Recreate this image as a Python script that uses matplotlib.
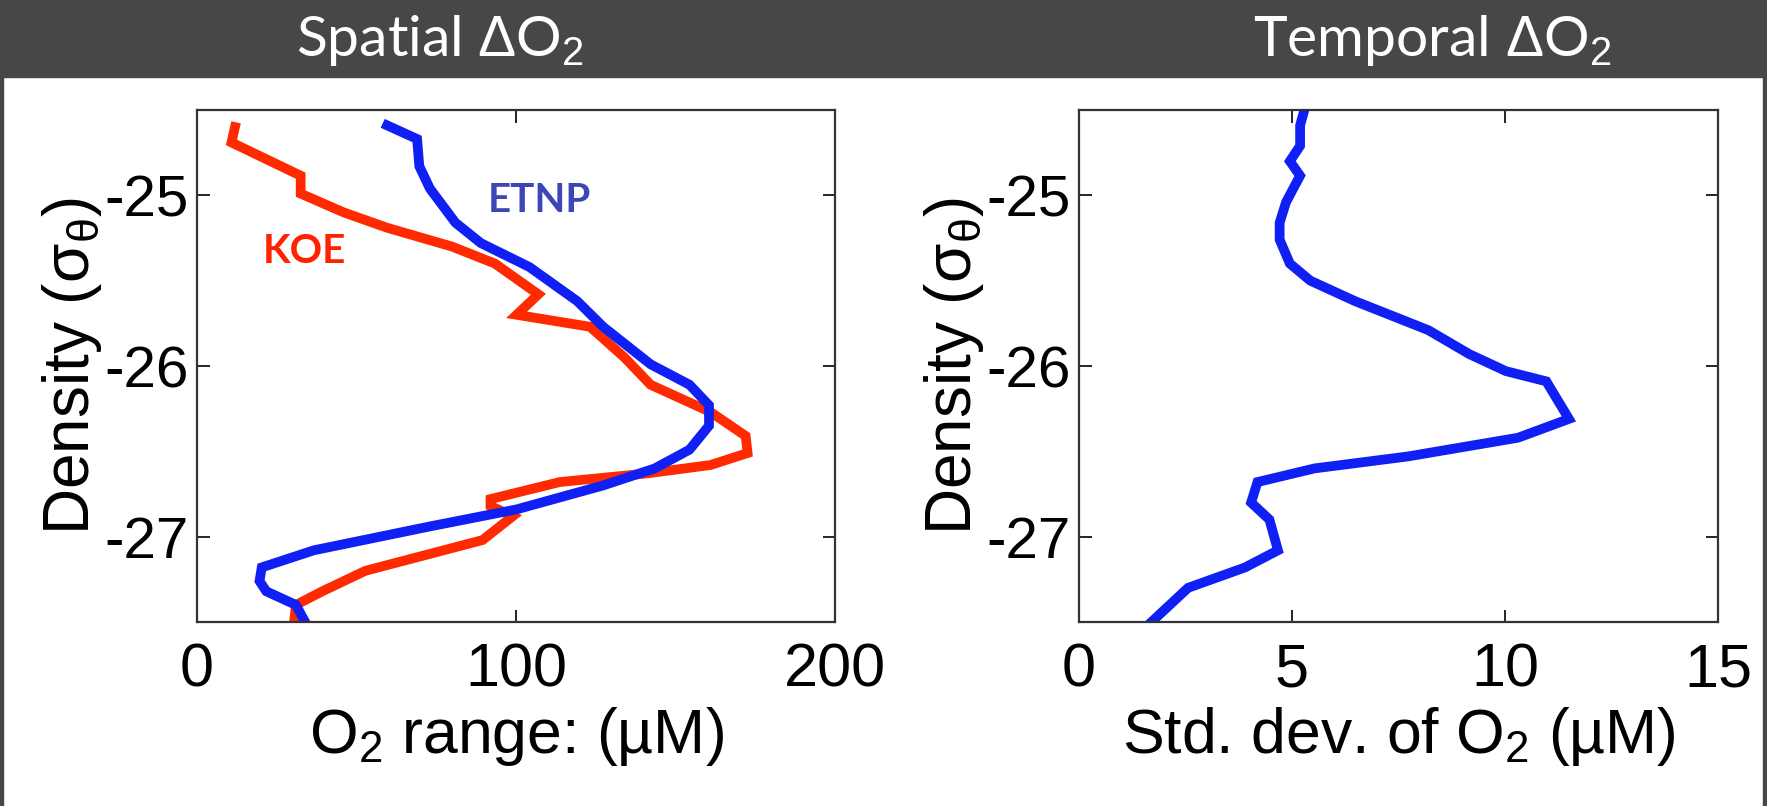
import matplotlib
matplotlib.use("Agg")
import matplotlib.pyplot as plt
from matplotlib.patches import Rectangle

# slide-style figure: two density profiles of O2 variability
plt.rcParams["axes.unicode_minus"] = False
plt.rcParams["mathtext.fontset"] = "custom"
plt.rcParams["mathtext.rm"] = "Liberation Sans"
plt.rcParams["mathtext.it"] = "Liberation Sans"
plt.rcParams["mathtext.bf"] = "Liberation Sans:bold"
plt.rcParams["font.family"] = ["Liberation Sans", "DejaVu Sans"]

# KOE: O2 range vs density
koe_o2 = [11.9, 10.8, 32.5, 32.5, 46, 59.6, 79.9, 93.4, 107, 100.2, 123.2, 134, 142.2,
          161, 172, 172.6, 161, 140.8, 113.7, 92, 92, 99, 89.5, 52.8, 39.3, 31, 30.5]
koe_sig = [-24.60, -24.69, -24.885, -24.99, -25.10, -25.19, -25.30, -25.40, -25.58, -25.70,
           -25.77, -25.95, -26.11, -26.27, -26.41, -26.51, -26.58, -26.63, -26.68, -26.78,
           -26.82, -26.88, -27.02, -27.20, -27.32, -27.40, -27.49]

# ETNP: O2 range vs density
etnp_o2 = [59.6, 69, 69.7, 73, 81, 89, 104.2, 119.2, 127.3, 142.2, 154.4, 160.5, 160.5,
           154.4, 143.5, 127.3, 100.2, 73, 36.6, 20.3, 19.6, 21.7, 31, 33.9]
etnp_sig = [-24.59, -24.67, -24.83, -24.96, -25.16, -25.28, -25.42, -25.62, -25.77, -25.99,
            -26.11, -26.23, -26.35, -26.49, -26.60, -26.70, -26.84, -26.94, -27.08, -27.18,
            -27.26, -27.32, -27.40, -27.50]

# temporal std dev of O2 vs density
std_o2 = [5.29, 5.19, 5.19, 4.95, 5.19, 4.86, 4.71, 4.71, 4.95, 5.43, 6.48, 8.20, 9.16,
          10.02, 10.97, 11.50, 10.31, 7.72, 5.53, 4.19, 4.04, 4.47, 4.67, 3.90, 2.56, 1.70]
std_sig = [-24.50, -24.59, -24.71, -24.80, -24.885, -25.04, -25.16, -25.26, -25.40, -25.50,
           -25.62, -25.79, -25.93, -26.03, -26.09, -26.31, -26.42, -26.53, -26.60, -26.68,
           -26.80, -26.90, -27.08, -27.18, -27.30, -27.50]

W, H = 1767, 806
fig = plt.figure(figsize=(W / 100, H / 100), dpi=100)
fig.patch.set_facecolor("white")

dark = "#474747"
fig.patches.append(Rectangle((0, 1 - 77 / H), 1, 77 / H, transform=fig.transFigure,
                             color=dark, zorder=0))
fig.patches.append(Rectangle((0, 0), 3 / W, 1, transform=fig.transFigure, color=dark, zorder=0))
fig.patches.append(Rectangle((1763 / W, 0), 4 / W, 1, transform=fig.transFigure, color=dark, zorder=0))

title_kw = dict(color="white", fontsize=41, ha="center", va="center", family="Lato")
fig.text(440 / W, 1 - 40 / H, r"Spatial $\Delta$O$_2$", **title_kw)
fig.text(1432 / W, 1 - 40 / H, r"Temporal $\Delta$O$_2$", **title_kw)

bottom = (H - 622) / H
height = 512 / H
ax1 = fig.add_axes([197 / W, bottom, 638 / W, height])
ax2 = fig.add_axes([1079 / W, bottom, 639 / W, height])

red = "#ff2a00"
blue = "#1020f5"
ax1.plot(koe_o2, koe_sig, color=red, lw=7, solid_joinstyle="miter")
ax1.plot(etnp_o2, etnp_sig, color=blue, lw=7, solid_joinstyle="miter")
ax2.plot(std_o2, std_sig, color=blue, lw=7, solid_joinstyle="miter")

ax1.text(91, -25.03, "ETNP", color="#3c46b4", fontsize=29, fontweight="bold",
         family="Lato", va="center")
ax1.text(20.5, -25.33, "KOE", color="#ff2200", fontsize=29, fontweight="bold",
         family="Lato", va="center")

ax1.set_xlim(0, 200)
ax1.set_xticks([0, 100, 200])
ax2.set_xlim(0, 15)
ax2.set_xticks([0, 5, 10, 15])

for ax in (ax1, ax2):
    ax.set_ylim(-27.5, -24.5)
    ax.set_yticks([-27, -26, -25])
    ax.tick_params(direction="in", length=9, width=1.2, top=True, right=True,
                   labelsize=42, colors="black")
    ax.tick_params(axis="x", pad=15, labelsize=44)
    ax.tick_params(axis="y", pad=6)
    for s in ax.spines.values():
        s.set_linewidth(1.6)
        s.set_color("#333333")
    ax.set_ylabel(r"Density (σ$_θ$)", fontsize=46, labelpad=0)

ax1.set_xlabel("O$_2$ range: (µM)", fontsize=45, labelpad=4)
ax2.set_xlabel("Std. dev. of O$_2$ (µM)", fontsize=45, labelpad=4)

fig.savefig("out.png", dpi=100)
